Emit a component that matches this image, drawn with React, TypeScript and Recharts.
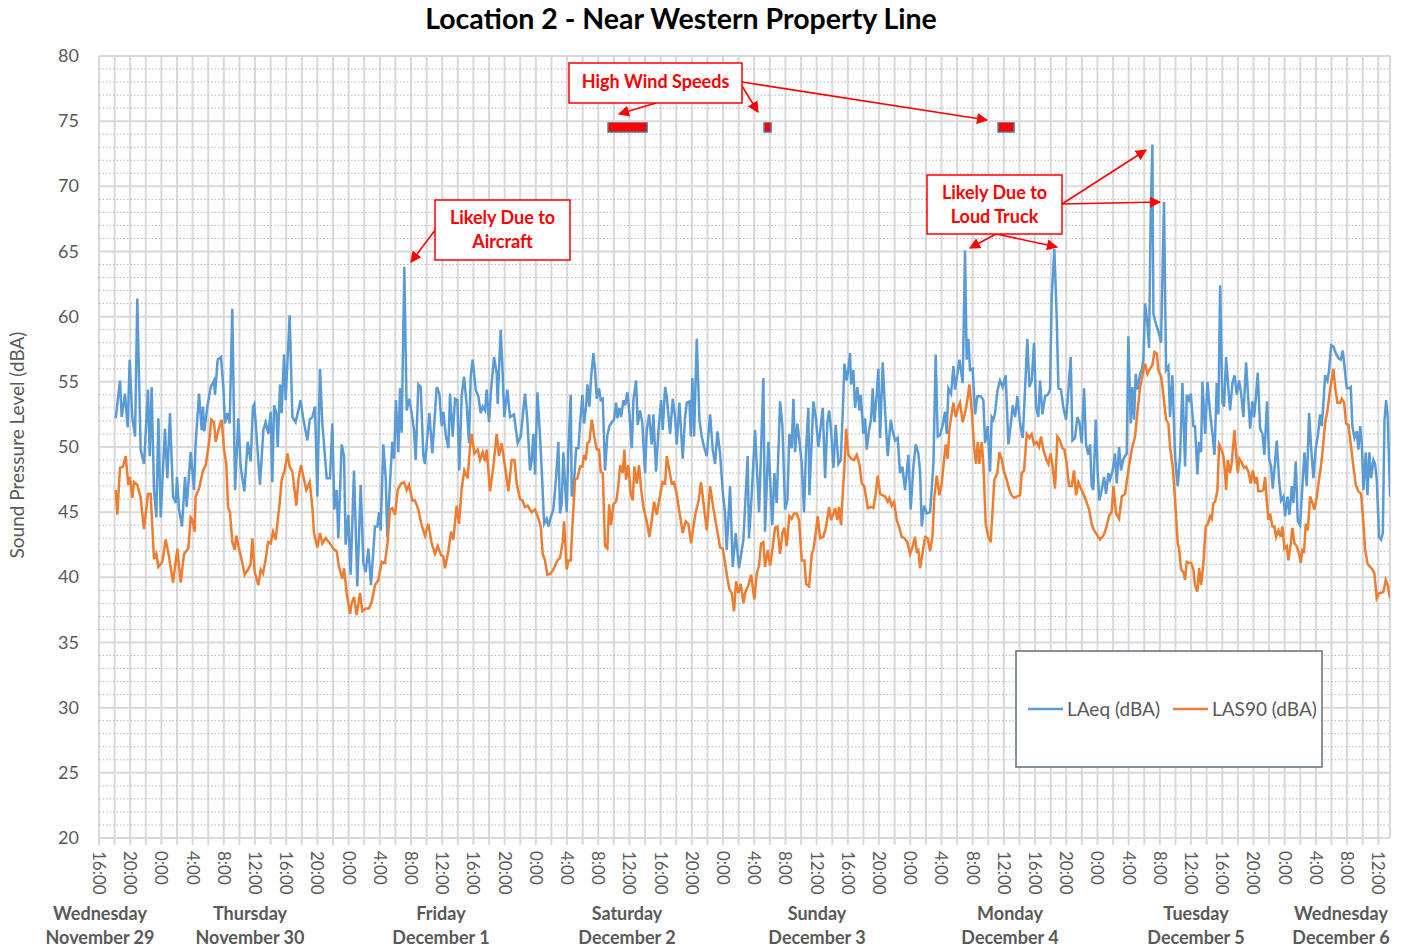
import React from "react";
import { LineChart, Line, XAxis, YAxis, CartesianGrid, ReferenceLine, ReferenceArea } from "recharts";

// Hours since Wednesday, November 29, 16:00
const laeqPart1: [number, number][] = [
  [2.14,52.2],[2.69,55.1],[2.91,52.3],[3.33,54.1],[3.68,51.5],[3.93,56.7],[4.27,52.3],[4.62,50.8],[4.91,61.4],[5.34,49.8],
  [5.77,48.7],[6.28,54.4],[6.5,49.3],[6.75,54.6],[7.05,46.7],[7.35,44.6],[7.61,52.2],[7.91,44.6],[8.46,51.4],[8.76,47.6],
  [9.1,52.6],[9.49,46.2],[9.83,45.7],[10.0,47.7],[10.26,45.2],[10.64,43.9],[11.03,47.7],[11.24,45.4],[11.75,49.6],[12.18,46.7],
  [12.39,50.3],[12.82,54.1],[13.16,51.3],[13.33,53.1],[13.5,51.2],[13.89,53.1],[14.32,54.6],[14.74,55.1],[14.87,54.0],[15.21,56.7],
  [15.64,56.9],[15.94,54.6],[16.15,51.8],[16.45,52.6],[16.75,51.8],[17.09,60.6],[17.44,46.7],[17.86,52.2],[18.16,48.5],[18.63,46.6],
  [19.06,50.4],[19.44,48.9],[19.74,53.1],[19.91,53.3],[20.3,50.0],[20.64,47.1],[21.07,51.3],[21.37,51.9],[21.71,51.0],[22.01,52.7],
  [22.22,47.3],[22.44,53.2],[22.74,52.6],[22.91,50.0],[23.21,54.8],[23.42,52.6],[23.72,57.1],[23.93,53.6],[24.44,60.1],[24.79,52.3],
  [25.21,51.9],[25.47,52.6],[25.85,53.6],[26.15,52.3],[26.71,50.5],[27.01,52.1],[27.35,52.3],[27.69,53.1],[27.99,46.2],
];
const laeqPart2: [number, number][] = [
  [28.33,56.0],[28.63,51.8],[29.19,47.6],[29.61,47.6],[29.91,51.8],[30.17,45.2],[30.47,46.7],[30.68,43.0],[31.11,50.2],[31.41,49.3],
  [31.62,42.5],[31.96,44.8],[32.26,40.2],[32.69,48.2],[33.12,39.3],[33.55,47.1],[33.89,41.1],[34.19,40.4],[34.53,42.2],[34.87,39.4],
  [35.38,43.9],[35.68,43.9],[35.9,45.0],[36.11,43.6],[36.45,50.2],[36.75,47.7],[36.96,43.1],[37.3,47.2],[37.6,50.4],[37.82,49.1],
  [38.07,53.6],[38.37,49.6],[38.59,54.5],[38.8,51.1],[39.14,63.8],[39.44,52.8],[39.78,53.7],[40.08,52.6],[40.38,51.3],[40.6,49.0],
  [40.94,54.8],[41.24,54.6],[41.58,49.3],[41.79,48.7],[42.35,52.6],[42.73,49.5],[43.29,54.6],[43.63,54.1],[43.93,51.6],[44.14,52.7],
  [44.48,50.8],[44.78,49.9],[45.0,54.1],[45.34,50.8],[45.64,53.7],[45.94,53.6],[46.19,48.2],[46.49,53.9],[46.79,55.4],[47.13,53.3],
  [47.43,50.3],[47.65,55.4],[47.9,56.7],[48.29,54.4],[48.63,53.9],[48.93,52.6],[49.19,53.1],[49.49,52.8],[49.7,54.4],[50.0,51.9],
  [50.26,54.4],[50.64,56.9],[50.98,55.7],[51.11,53.3],[51.49,59.0],[51.71,56.2],[51.96,52.3],[52.35,54.4],[52.69,52.3],[53.2,52.5],
  [53.67,50.3],[54.06,50.8],[54.61,54.1],[54.91,52.1],[55.25,48.2],
];
const laeqPart3: [number, number][] = [
  [55.47,49.0],[55.69,51.0],[55.9,47.9],[56.2,54.2],[56.54,50.8],[56.76,48.2],[57.06,44.1],[57.4,44.5],[57.61,43.9],[57.91,44.6],
  [58.25,45.2],[58.59,47.6],[58.89,50.4],[59.1,44.9],[59.32,45.7],[59.53,49.6],[59.75,47.0],[59.96,45.0],[60.17,49.8],[60.47,54.0],
  [60.6,46.2],[60.94,47.7],[61.16,49.9],[61.46,49.9],[61.67,51.8],[61.97,54.0],[62.18,51.8],[62.44,53.1],[62.61,54.8],[62.87,53.1],
  [63.08,55.3],[63.38,57.2],[63.59,55.9],[63.81,53.7],[64.1,54.5],[64.32,53.6],[64.58,53.7],[64.87,48.2],[65.17,50.9],[65.43,51.6],
  [65.73,51.9],[66.03,52.1],[66.29,53.4],[66.46,52.2],[66.71,53.0],[66.93,52.3],[67.23,53.6],[67.44,53.2],[67.74,54.2],[68.0,52.6],
  [68.3,49.9],[68.51,53.6],[68.85,55.1],[69.06,51.7],[69.36,52.8],[69.66,51.8],[70.0,48.0],[70.22,51.3],[70.52,52.5],[70.86,50.2],
  [71.07,52.5],[71.41,48.1],[71.71,51.2],[72.06,53.6],[72.27,51.3],[72.57,54.6],[72.78,53.9],[73.21,51.0],[73.55,53.7],[73.85,52.3],
  [74.06,50.2],[74.41,53.4],[74.83,49.1],[75.13,52.3],[75.35,53.4],[75.69,53.5],[75.86,50.8],[76.07,55.3],[76.29,50.8],[76.63,58.3],
  [76.97,52.1],[77.27,50.8],[77.57,50.0],[77.91,49.3],[78.34,52.5],[78.68,49.8],[78.98,48.7],[79.28,51.2],[79.62,49.5],[79.96,46.6],
  [80.26,44.9],[80.47,42.1],[80.9,47.0],[81.24,40.8],[81.62,43.4],[82.05,40.7],[82.61,42.9],
];
const laeqPart4: [number, number][] = [
  [82.82,45.4],[83.16,49.3],[83.33,43.0],[83.68,46.4],[84.1,51.3],[84.62,45.0],[85.17,55.3],[85.38,43.5],[85.81,50.4],[86.32,44.0],
  [86.58,48.0],[86.88,45.7],[87.31,53.5],[87.61,51.6],[87.95,45.2],[88.25,45.9],[88.5,51.0],[88.8,49.9],[89.02,53.7],[89.23,49.6],
  [89.53,51.8],[89.79,50.5],[90.09,48.7],[90.38,45.0],[90.64,49.8],[90.94,53.0],[91.07,46.3],[91.58,53.5],[91.92,52.1],[92.22,50.0],
  [92.52,51.6],[92.78,53.0],[93.08,47.6],[93.38,51.9],[93.59,52.8],[93.85,51.3],[94.15,48.4],[94.44,51.7],[94.79,48.7],[95.09,49.0],
  [95.34,52.6],[95.56,56.4],[95.85,55.1],[96.07,56.0],[96.28,57.2],[96.41,54.8],[96.71,55.9],[96.92,53.0],[97.22,54.6],[97.48,52.8],
  [97.65,54.0],[97.99,51.0],[98.21,52.2],[98.42,49.8],[98.72,51.3],[98.97,52.1],[99.19,54.5],[99.4,51.9],[99.7,54.0],[99.91,56.0],
  [100.13,50.7],[100.47,56.5],[100.77,52.8],[101.11,49.3],[101.5,52.1],[101.75,51.2],[102.05,50.5],[102.39,50.7],[102.69,48.0],[102.99,48.5],
  [103.33,46.7],[103.76,49.4],[104.06,45.2],[104.4,48.5],[104.7,50.2],[105.04,49.5],[105.26,48.1],[105.47,43.9],[105.77,45.5],[106.11,44.9],
  [106.54,45.0],[106.97,48.7],[107.26,57.1],[107.52,50.8],[107.82,50.9],[108.12,51.6],[108.46,52.7],[108.67,51.0],[108.89,54.5],[109.23,54.1],
  [109.53,56.2],[109.74,54.4],[110.04,55.6],[110.3,56.7],
];
const laeqPart5: [number, number][] = [
  [110.72,54.9],[111.02,65.1],[111.23,56.7],[111.45,58.3],[111.66,55.9],[112.0,56.0],[112.31,52.5],[112.6,53.9],[113.03,53.9],[113.37,53.6],
  [113.59,50.3],[113.93,51.6],[114.23,48.1],[114.44,52.3],[114.65,52.1],[114.87,52.6],[115.17,54.3],[115.51,55.1],[115.85,54.6],[116.23,55.5],
  [116.58,50.2],[116.88,51.7],[117.13,53.2],[117.44,52.3],[117.73,53.9],[118.08,51.8],[118.42,50.7],[118.71,54.4],[119.01,58.3],[119.27,54.6],
  [119.57,55.1],[119.87,58.0],[120.12,53.1],[120.42,52.3],[120.64,55.1],[120.94,52.5],[121.28,53.9],[121.62,54.0],[121.92,54.4],[122.13,61.5],
  [122.47,65.2],[122.77,60.0],[122.99,54.5],[123.33,54.4],[123.63,53.0],[123.97,52.1],[124.27,54.3],[124.57,56.9],[124.79,50.5],[125.12,50.7],
  [125.42,52.3],[125.68,51.9],[125.98,50.3],[126.28,54.5],[126.53,50.2],[126.83,49.4],[127.05,50.2],[127.26,47.0],[127.47,46.7],[127.78,52.1],
  [128.03,48.0],[128.24,45.9],[128.54,46.7],[128.84,47.7],[129.1,46.4],[129.4,48.0],[129.61,47.5],[129.95,48.2],[130.25,49.5],[130.47,47.2],
  [130.77,50.0],[131.02,48.2],[131.32,49.1],[131.75,49.5],[131.96,58.5],[132.26,51.8],[132.47,54.6],[132.69,52.1],[132.9,55.6],[133.16,54.4],
  [133.46,55.6],[133.67,55.9],[133.88,56.7],[134.1,61.0],[134.4,59.5],[134.61,57.6],[134.82,67.7],[135.04,73.2],[135.17,60.2],[135.51,59.4],
  [135.9,58.7],[136.15,58.0],[136.53,68.8],[136.79,55.9],[137.09,56.2],[137.3,52.3],[137.6,55.5],[137.94,49.3],
];
const laeqPart6: [number, number][] = [
  [138.29,47.0],[138.59,49.3],[138.89,54.9],[139.23,48.5],[139.45,54.0],[139.74,53.6],[139.96,54.1],[140.3,51.6],[140.51,51.6],[140.81,47.9],
  [141.03,50.4],[141.28,49.6],[141.45,55.0],[141.8,51.0],[142.1,55.0],[142.44,52.6],[142.74,51.0],[143.0,49.4],[143.29,54.9],[143.5,52.5],
  [143.72,62.4],[144.02,53.4],[144.23,53.1],[144.49,56.9],[144.79,54.4],[145.0,52.8],[145.3,54.9],[145.56,55.5],[145.86,54.0],[146.15,55.1],
  [146.41,54.1],[146.71,52.3],[147.05,56.5],[147.35,53.5],[147.57,51.4],[147.86,53.5],[148.08,52.3],[148.29,53.7],[148.55,55.7],[148.85,51.4],
  [149.15,51.0],[149.4,49.4],[149.74,53.5],[150.0,49.1],[150.26,48.5],[150.47,46.8],[150.77,48.9],[150.98,50.5],[151.28,47.5],[151.54,45.9],
  [151.84,46.2],[152.05,44.7],[152.35,46.2],[152.61,44.8],[152.91,47.0],[153.12,45.7],[153.42,48.9],[153.68,44.3],[153.97,44.0],[154.27,47.0],
  [154.53,49.6],[154.83,47.0],[155.13,52.6],[155.38,50.0],[155.68,47.6],[155.98,49.9],[156.24,50.8],[156.54,52.5],[156.75,51.6],[156.97,53.4],
  [157.18,55.5],[157.48,55.1],[157.69,55.9],[157.95,57.8],[158.25,57.7],[158.55,57.2],[158.89,56.8],[159.19,56.7],[159.45,57.4],[159.66,56.2],
  [159.96,54.5],[160.26,54.5],[160.47,54.6],[160.68,51.6],[160.94,50.7],[161.24,51.2],[161.45,49.8],[161.67,51.6],[161.88,50.3],[162.1,46.7],
  [162.4,49.6],[162.61,46.3],[162.86,49.6],[163.08,47.6],[163.38,49.0],[163.59,48.7],[163.8,47.5],[164.1,43.1],[164.36,42.9],[164.58,43.4],
  [164.79,52.0],[165.0,53.6],[165.21,52.3],[165.51,46.2],
];

const las90Part1: [number, number][] = [
  [2.14,46.7],[2.35,44.8],[2.69,48.4],[3.08,48.5],[3.42,49.3],[3.76,47.1],[3.97,47.7],[4.27,46.1],[4.49,47.3],[4.91,47.1],
  [5.34,46.1],[5.77,43.7],[6.28,46.4],[6.62,46.4],[7.05,41.4],[7.35,41.8],[7.61,40.8],[8.12,41.2],[8.55,42.9],[8.97,41.6],
  [9.49,39.6],[10.04,42.2],[10.47,39.6],[10.9,41.8],[11.45,42.2],[11.75,44.6],[11.97,44.4],[12.26,43.5],[12.39,46.2],[12.82,46.8],
  [13.33,48.2],[13.68,48.6],[14.1,50.3],[14.4,52.1],[14.74,51.9],[14.96,50.4],[15.3,51.3],[15.73,52.1],[16.03,49.8],[16.32,48.7],
  [16.54,45.4],[16.79,45.0],[17.09,42.7],[17.39,42.1],[17.61,43.2],[17.95,42.2],[18.38,41.1],[18.68,40.2],[19.1,40.6],[19.44,41.0],
  [19.66,43.0],[19.96,40.4],[20.43,39.4],[20.73,40.6],[21.03,40.3],[21.37,41.4],[21.67,42.7],[22.01,42.6],[22.31,43.5],[22.65,42.9],
  [22.86,44.1],[23.16,45.7],[23.42,47.5],[23.8,48.2],[24.15,49.5],[24.44,48.5],[24.79,48.1],[25.09,46.6],[25.3,45.5],[25.56,47.5],
  [25.9,48.6],[26.28,47.5],[26.58,46.7],[27.01,47.3],[27.35,45.4],[27.56,43.4],[27.99,42.3],
];
const las90Part2: [number, number][] = [
  [28.33,43.4],[28.63,42.6],[29.06,43.0],[29.61,42.6],[30.04,42.2],[30.47,42.0],[30.77,40.8],[31.19,39.9],[31.41,40.7],[31.75,38.8],
  [32.18,37.2],[32.39,38.0],[32.69,38.5],[33.03,37.1],[33.46,38.8],[33.76,37.4],[34.19,37.6],[34.61,37.6],[34.96,38.1],[35.38,39.4],
  [35.81,39.8],[36.24,41.2],[36.66,41.1],[37.0,42.7],[37.3,45.2],[37.6,45.3],[37.95,44.8],[38.29,46.7],[38.72,47.2],[39.1,47.3],
  [39.44,46.7],[39.74,47.1],[40.17,45.9],[40.51,45.9],[40.94,45.2],[41.36,44.0],[41.79,43.2],[42.22,44.1],[42.65,42.6],[43.08,41.8],
  [43.42,42.4],[43.85,41.7],[44.14,41.6],[44.36,40.7],[44.78,42.0],[45.13,43.5],[45.43,42.9],[45.85,45.5],[46.15,44.1],[46.49,46.8],
  [46.83,48.2],[47.26,47.6],[47.56,50.0],[47.78,51.0],[48.12,49.5],[48.55,49.8],[48.85,49.0],[49.19,49.6],[49.49,48.9],[49.7,49.8],
  [50.13,46.6],[50.55,48.5],[50.98,51.0],[51.28,49.3],[51.62,50.3],[52.05,48.5],[52.48,46.6],[52.9,49.0],[53.25,49.0],[53.55,47.2],
  [53.97,46.0],[54.27,45.9],[54.61,45.4],[54.96,45.5],[55.25,45.2],
];
const las90Part3: [number, number][] = [
  [55.47,45.0],[55.9,45.2],[56.33,44.5],[56.63,43.9],[56.88,41.8],[57.18,41.3],[57.48,40.2],[57.91,40.3],[58.34,40.7],[58.76,41.3],
  [59.1,41.5],[59.45,42.7],[59.62,44.3],[59.96,40.6],[60.17,41.3],[60.47,41.3],[60.73,44.4],[61.03,47.5],[61.33,47.6],[61.67,48.5],
  [61.97,48.5],[62.18,49.4],[62.4,49.0],[62.61,50.3],[62.87,50.4],[63.17,52.1],[63.47,50.9],[63.81,49.8],[64.1,49.8],[64.32,48.1],
  [64.58,48.0],[64.87,42.4],[65.17,42.2],[65.39,45.6],[65.64,44.0],[65.94,45.6],[66.29,45.8],[66.58,47.0],[66.8,48.6],[67.14,48.0],
  [67.35,49.8],[67.56,47.5],[67.86,48.6],[68.16,46.4],[68.42,45.9],[68.63,48.5],[68.94,47.2],[69.23,48.6],[69.49,46.8],[69.79,45.4],
  [70.22,44.3],[70.56,43.1],[70.86,44.4],[71.16,45.8],[71.5,44.8],[71.93,46.3],[72.23,47.3],[72.57,47.2],[72.78,49.3],[73.12,48.2],
  [73.42,47.2],[73.72,47.3],[74.06,46.4],[74.41,45.0],[74.83,43.4],[75.21,44.3],[75.56,44.1],[75.9,42.6],[76.2,43.9],[76.5,45.0],
  [76.84,45.8],[77.18,47.3],[77.48,45.8],[77.91,43.6],[78.34,47.0],[78.76,45.3],[79.19,43.8],[79.62,42.3],[79.96,42.2],[80.26,41.1],
  [80.56,39.9],[80.81,39.1],[81.11,38.8],[81.41,37.4],[81.67,39.7],[81.97,38.8],[82.27,39.5],[82.61,38.0],
];
const las90Part4: [number, number][] = [
  [82.82,38.8],[83.25,39.4],[83.59,40.2],[84.02,38.3],[84.32,40.3],[84.62,40.9],[84.87,42.6],[85.17,42.7],[85.38,40.8],[85.73,42.1],
  [86.03,40.9],[86.32,42.1],[86.67,43.8],[86.97,43.9],[87.31,41.8],[87.61,43.4],[87.86,43.8],[88.16,42.4],[88.5,44.7],[88.8,44.5],
  [89.1,44.9],[89.44,44.9],[89.74,44.4],[90.09,41.3],[90.43,41.3],[90.64,39.5],[91.03,39.3],[91.37,41.8],[91.58,42.1],[91.88,43.4],
  [92.14,44.7],[92.44,43.0],[92.86,43.1],[93.21,43.9],[93.59,45.4],[93.85,44.4],[94.15,44.9],[94.36,45.3],[94.66,44.4],[94.87,45.4],
  [95.13,44.0],[95.34,46.4],[95.56,48.5],[95.77,51.4],[96.07,49.4],[96.41,49.1],[96.79,49.0],[97.14,49.4],[97.48,48.7],[97.78,47.2],
  [98.08,47.0],[98.33,46.2],[98.55,45.3],[98.93,45.4],[99.27,45.3],[99.57,46.4],[99.83,47.8],[100.13,46.4],[100.43,46.3],[100.77,46.2],
  [101.11,45.8],[101.32,46.1],[101.62,45.5],[101.92,45.8],[102.26,44.4],[102.61,43.8],[102.91,43.1],[103.25,43.0],[103.63,42.7],[103.97,41.8],
  [104.32,42.4],[104.62,43.1],[104.83,42.0],[105.04,42.1],[105.26,40.7],[105.56,41.8],[105.9,43.1],[106.24,43.0],[106.54,42.0],[106.84,43.1],
  [107.09,46.2],[107.39,47.8],[107.73,46.3],[108.03,47.2],[108.33,49.0],[108.55,50.2],[108.8,49.1],[109.02,51.4],[109.32,52.6],[109.53,53.4],
  [109.83,52.3],[110.17,53.1],
];
const las90Part5: [number, number][] = [
  [110.38,53.4],[110.72,51.9],[111.02,52.6],[111.32,53.6],[111.58,54.8],[111.88,52.8],[112.18,50.0],[112.44,48.7],[112.65,50.4],[112.86,48.7],
  [113.16,50.4],[113.37,48.7],[113.67,44.1],[114.01,43.1],[114.31,42.7],[114.53,44.9],[114.78,47.5],[115.17,48.0],[115.43,49.6],[115.72,49.1],
  [116.02,48.1],[116.36,47.5],[116.7,46.7],[117.0,46.3],[117.3,46.1],[117.65,46.2],[118.08,46.3],[118.29,48.0],[118.59,48.2],[118.93,51.0],
  [119.27,50.7],[119.57,51.0],[119.87,50.2],[120.21,50.4],[120.51,50.0],[120.77,50.8],[121.06,49.8],[121.41,49.1],[121.71,48.7],[122.0,49.5],
  [122.26,48.5],[122.56,46.8],[122.86,50.8],[123.2,50.5],[123.5,49.9],[123.76,49.8],[124.06,48.7],[124.35,47.0],[124.7,47.0],[124.99,48.2],
  [125.25,46.3],[125.55,47.3],[125.9,46.8],[126.19,46.4],[126.53,45.9],[126.92,45.2],[127.26,44.1],[127.56,43.6],[127.9,43.3],[128.33,42.9],
  [128.76,43.2],[129.18,43.9],[129.48,44.7],[129.82,45.0],[130.04,47.0],[130.38,44.9],[130.77,44.5],[131.11,46.2],[131.54,46.4],[131.96,48.2],
  [132.39,49.8],[132.82,50.8],[133.12,52.7],[133.46,54.6],[133.8,55.6],[134.1,56.4],[134.4,55.6],[134.74,56.0],[135.04,56.3],[135.3,57.3],
  [135.6,57.2],[135.81,55.9],[136.15,55.4],[136.45,54.0],[136.79,52.1],[137.09,51.8],[137.3,50.0],[137.65,48.5],
];
const las90Part6: [number, number][] = [
  [137.95,45.9],[138.29,42.6],[138.46,42.2],[138.72,40.6],[139.02,40.4],[139.23,39.8],[139.45,41.2],[139.74,41.1],[140.0,41.1],[140.3,40.6],
  [140.51,39.4],[140.81,38.9],[141.03,40.7],[141.28,39.4],[141.58,41.1],[141.88,43.9],[142.14,44.1],[142.44,44.7],[142.65,44.5],[142.87,45.7],
  [143.08,45.8],[143.38,46.7],[143.59,50.2],[143.85,49.9],[144.15,49.3],[144.36,48.0],[144.49,46.7],[144.7,49.0],[145.0,48.0],[145.21,48.8],
  [145.56,51.3],[145.77,49.5],[145.99,48.0],[146.2,49.1],[146.5,48.8],[146.8,48.4],[147.05,48.5],[147.35,48.1],[147.65,47.2],[147.91,48.2],
  [148.21,47.2],[148.42,47.7],[148.63,46.6],[148.97,46.6],[149.27,46.7],[149.49,47.7],[149.7,45.9],[149.91,44.4],[150.13,44.9],[150.43,43.9],
  [150.68,43.9],[150.9,43.1],[151.2,43.6],[151.5,43.1],[151.71,43.9],[151.97,42.2],[152.27,42.4],[152.48,41.3],[152.78,42.6],[152.99,43.8],
  [153.25,42.6],[153.55,42.4],[153.85,41.8],[154.06,41.1],[154.27,42.1],[154.49,42.0],[154.7,44.1],[154.96,43.6],[155.26,46.2],[155.56,45.7],
  [155.81,45.2],[156.11,46.2],[156.33,47.2],[156.62,48.4],[156.88,49.8],[157.18,51.8],[157.48,52.8],[157.74,54.0],[157.95,54.9],[158.25,56.0],
  [158.46,54.6],[158.76,53.4],[159.1,53.4],[159.32,53.7],[159.62,53.4],[159.87,51.8],[160.17,51.7],[160.51,50.0],[160.81,48.5],[161.11,47.1],
  [161.45,46.6],[161.79,46.4],[162.1,44.1],[162.31,42.1],[162.65,41.0],[162.95,40.8],[163.25,40.6],[163.5,40.3],[163.8,38.4],[164.1,38.8],
  [164.36,38.8],[164.66,38.9],[164.96,39.8],[165.21,39.4],[165.51,38.4],
];

// High wind periods: [start hour, end hour] and the band they are drawn in
const windPeriods: [number, number][] = [[65.26, 70.26], [85.26, 86.15], [115.26, 117.3]];
const windBand: [number, number] = [74.17, 74.94];

const xTickLabels = [
  "16:00","20:00","0:00","4:00","8:00","12:00",
  "16:00","20:00","0:00","4:00","8:00","12:00",
  "16:00","20:00","0:00","4:00","8:00","12:00",
  "16:00","20:00","0:00","4:00","8:00","12:00",
  "16:00","20:00","0:00","4:00","8:00","12:00",
  "16:00","20:00","0:00","4:00","8:00","12:00",
  "16:00","20:00","0:00","4:00","8:00","12:00",
];
const yTicks = [20, 25, 30, 35, 40, 45, 50, 55, 60, 65, 70, 75, 80];
const dayLabels: [string, string][] = [
  ["Wednesday", "November 29"], ["Thursday", "November 30"], ["Friday", "December 1"], ["Saturday", "December 2"],
  ["Sunday", "December 3"], ["Monday", "December 4"], ["Tuesday", "December 5"], ["Wednesday", "December 6"],
];
const dayLabelX = [100, 250, 441, 627, 817, 1010, 1196, 1341];

const laeqData = [...laeqPart1, ...laeqPart2, ...laeqPart3, ...laeqPart4, ...laeqPart5, ...laeqPart6].map(([h, v]) => ({ h, v }));
const las90Data = [...las90Part1, ...las90Part2, ...las90Part3, ...las90Part4, ...las90Part5, ...las90Part6].map(([h, v]) => ({ h, v }));

const X_MAX = 165.5;
const xGridTicks: number[] = [];
for (let t = 0; t <= X_MAX; t += 2) xGridTicks.push(t);
const minorY: number[] = [];
for (let t = 21; t < 80; t++) if (t % 5 !== 0) minorY.push(t);

const FONT = "Lato, 'Open Sans', sans-serif";
const GRAY = "#595959";
const GRID = "#d9d9d9";
const BLUE = "#5b9bd5";
const ORANGE = "#ed7d31";
const RED = "#ff0000";

function XTick(props: any) {
  const { x, y, payload } = props;
  const v = payload.value as number;
  if (v % 4 !== 0) return <g />;
  const label = xTickLabels[v / 4];
  return (
    <text transform={`translate(${x - 6},${y + 4}) rotate(90)`} fontSize={17} fill={GRAY} fontFamily={FONT}>
      {label}
    </text>
  );
}

function YTick(props: any) {
  const { x, y, payload } = props;
  return (
    <text x={x} y={y} dy={6} textAnchor="end" fontSize={18} fill={GRAY} fontFamily={FONT}>
      {payload.value}
    </text>
  );
}

function Arrow({ x1, y1, x2, y2 }: { x1: number; y1: number; x2: number; y2: number }) {
  return <line x1={x1} y1={y1} x2={x2} y2={y2} stroke={RED} strokeWidth={1.6} markerEnd="url(#arrowHead)" />;
}

export default function App() {
  return (
    <div style={{ position: "absolute", left: 0, top: 0, width: 1408, height: 952, background: "#fff", fontFamily: FONT }}>
      <LineChart width={1408} height={952} margin={{ top: 56, right: 18, left: 0, bottom: 0 }}>
        <CartesianGrid stroke={GRID} strokeWidth={2} horizontal={false} vertical={true} />
        {minorY.map((v) => (
          <ReferenceLine key={"m" + v} y={v} stroke="#b8b8b8" strokeWidth={1} strokeDasharray="1.5 2" />
        ))}
        {yTicks.map((v) => (
          <ReferenceLine key={"M" + v} y={v} stroke={GRID} strokeWidth={2} />
        ))}
        <ReferenceLine x={X_MAX} stroke={GRID} strokeWidth={2} />
        <XAxis
          type="number"
          dataKey="h"
          domain={[0, X_MAX]}
          ticks={xGridTicks}
          interval={0}
          height={114}
          tick={<XTick />}
          tickLine={{ stroke: GRID, strokeWidth: 2 }}
          tickSize={7}
          axisLine={{ stroke: GRID, strokeWidth: 2 }}
          allowDataOverflow
        />
        <YAxis
          type="number"
          domain={[20, 80]}
          ticks={yTicks}
          interval={0}
          width={99}
          tick={<YTick />}
          tickLine={false}
          tickSize={0}
          tickMargin={20}
          axisLine={false}
          allowDataOverflow
        />
        {windPeriods.map(([a, b], i) => (
          <ReferenceArea key={"w" + i} x1={a} x2={b} y1={windBand[0]} y2={windBand[1]} fill={RED} fillOpacity={1} stroke="#52719a" strokeWidth={1.5} />
        ))}
        <Line data={laeqData} dataKey="v" name="LAeq (dBA)" stroke={BLUE} strokeWidth={2.5} dot={false} isAnimationActive={false} type="linear" />
        <Line data={las90Data} dataKey="v" name="LAS90 (dBA)" stroke={ORANGE} strokeWidth={2.5} dot={false} isAnimationActive={false} type="linear" />
      </LineChart>

      <svg width={1408} height={952} style={{ position: "absolute", left: 0, top: 0, pointerEvents: "none" }} fontFamily={FONT}>
        <defs>
          <marker id="arrowHead" viewBox="0 0 10 10" refX="9" refY="5" markerWidth="7" markerHeight="7" orient="auto" markerUnits="strokeWidth">
            <path d="M0,0 L10,5 L0,10 z" fill={RED} />
          </marker>
        </defs>
        <text x={681} y={29} textAnchor="middle" fontSize={28.5} fontWeight="bold" fill="#000">
          Location 2 - Near Western Property Line
        </text>
        <text transform="translate(24,445) rotate(-90)" textAnchor="middle" fontSize={19} fill={GRAY}>
          Sound Pressure Level (dBA)
        </text>
        {dayLabels.map(([d, m], i) => (
          <g key={"d" + i}>
            <text x={dayLabelX[i]} y={920} textAnchor="middle" fontSize={18} fontWeight="bold" fill={GRAY}>{d}</text>
            <text x={dayLabelX[i]} y={944} textAnchor="middle" fontSize={18} fontWeight="bold" fill={GRAY}>{m}</text>
          </g>
        ))}

        {/* Legend */}
        <rect x={1016} y={651} width={306} height={116} fill="#fff" stroke="#5f6e82" strokeWidth={1.5} />
        <line x1={1028} y1={709} x2={1063} y2={709} stroke={BLUE} strokeWidth={2.5} />
        <text x={1067} y={716} fontSize={19} fill={GRAY}>LAeq (dBA)</text>
        <line x1={1173} y1={709} x2={1208} y2={709} stroke={ORANGE} strokeWidth={2.5} />
        <text x={1212} y={716} fontSize={19} fill={GRAY}>LAS90 (dBA)</text>

        {/* High wind callout */}
        <Arrow x1={656} y1={103} x2={619} y2={114} />
        <Arrow x1={742} y1={86} x2={758} y2={112} />
        <Arrow x1={742} y1={82} x2={987} y2={120} />
        <rect x={569} y={63} width={173} height={40} fill="#fff" stroke={RED} strokeWidth={1.5} />
        <text x={655.5} y={88} textAnchor="middle" fontSize={18} fontWeight="bold" fill={RED}>High Wind Speeds</text>

        {/* Aircraft callout */}
        <Arrow x1={436} y1={229} x2={411} y2={262} />
        <rect x={435} y={200} width={135} height={60} fill="#fff" stroke={RED} strokeWidth={1.5} />
        <text x={502.5} y={224} textAnchor="middle" fontSize={18} fontWeight="bold" fill={RED}>Likely Due to</text>
        <text x={502.5} y={248} textAnchor="middle" fontSize={18} fontWeight="bold" fill={RED}>Aircraft</text>

        {/* Truck callout */}
        <Arrow x1={1062} y1={204} x2={1146} y2={150} />
        <Arrow x1={1062} y1={204} x2={1160} y2={202} />
        <Arrow x1={996} y1={234} x2={970} y2={248} />
        <Arrow x1={996} y1={234} x2={1057} y2={247} />
        <rect x={927} y={175} width={135} height={59} fill="#fff" stroke={RED} strokeWidth={1.5} />
        <text x={994.5} y={199} textAnchor="middle" fontSize={18} fontWeight="bold" fill={RED}>Likely Due to</text>
        <text x={994.5} y={223} textAnchor="middle" fontSize={18} fontWeight="bold" fill={RED}>Loud Truck</text>
      </svg>
    </div>
  );
}
